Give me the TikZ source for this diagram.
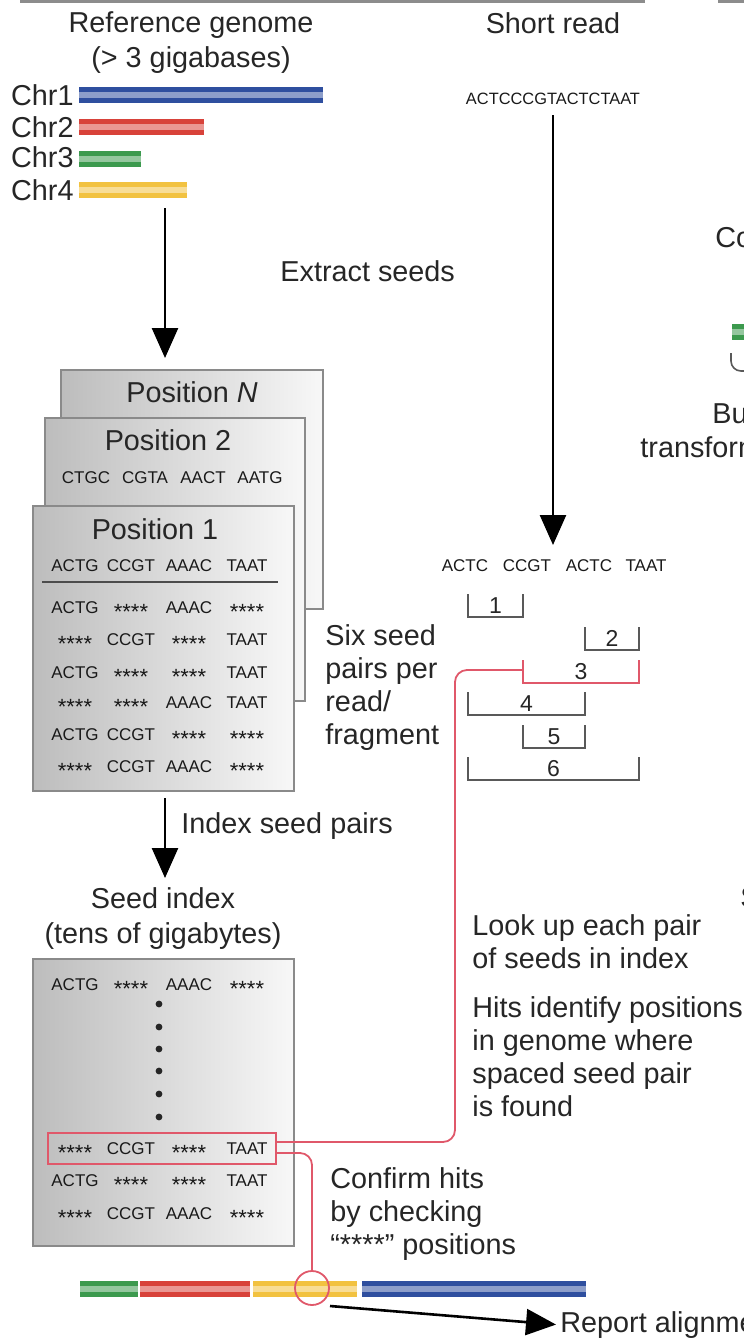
\documentclass[tikz,border=0pt]{standalone}
\usepackage{fontspec}
\setmainfont{Liberation Sans}
\usetikzlibrary{arrows.meta,positioning}

\definecolor{chrblue}{HTML}{2F4F9F}
\definecolor{chrred}{HTML}{D8423A}
\definecolor{chrgreen}{HTML}{3C9A4E}
\definecolor{chryellow}{HTML}{F2C240}
\definecolor{hitred}{HTML}{E0586A}
\definecolor{boxgray}{HTML}{8A8A8A}

\newcommand{\maskseed}{\raisebox{-3pt}{\fontsize{11}{11}\selectfont****}}

\tikzset{
  lbl/.style={font=\fontsize{14.4}{16.5}\selectfont, inner sep=0pt, align=left, text=black!85},
  seq/.style={font=\fontsize{8.5}{10}\selectfont, inner sep=0pt, anchor=base, text=black!90},
  num/.style={font=\fontsize{11.5}{12}\selectfont, inner sep=0pt, anchor=base, text=black!85},
  panel/.style={draw=boxgray, line width=1pt, left color=black!26, right color=black!3, anchor=north west},
  chrbar/.style={draw=#1, double=#1!55, line width=2.7pt, double distance=3pt},
  bigarrow/.style={line width=1.3pt, -{Triangle[length=15pt,width=13pt]}},
  hitline/.style={draw=hitred, line width=0.9pt, rounded corners=6pt},
  seedbracket/.style={draw=black!65, line width=0.8pt}
}

\begin{document}
\begin{tikzpicture}[x=0.5pt, y=-0.5pt]
\useasboundingbox (0,0) rectangle (744,1340);
\clip (0,0) rectangle (744,1340);

% Panel frame lines
\draw[black!45, line width=1.2pt] (20,1.5) -- (645,1.5);
\draw[black!45, line width=1.2pt] (718,1.5) -- (744,1.5);

% Reference genome and its chromosomes
\node[lbl, align=center, anchor=north, font=\fontsize{14.4}{17.5}\selectfont] (genome) at (191,11) {Reference genome\\(> 3 gigabases)};
\node[lbl, anchor=base east] (chr1) at (74,105) {Chr1};
\node[lbl, anchor=base east] (chr2) at (74,137) {Chr2};
\node[lbl, anchor=base east] (chr3) at (74,167) {Chr3};
\node[lbl, anchor=base east] (chr4) at (74,200) {Chr4};
\draw[chrbar=chrblue] (79,95) -- (323,95);
\draw[chrbar=chrred] (79,127) -- (204,127);
\draw[chrbar=chrgreen] (79,159) -- (141,159);
\draw[chrbar=chryellow] (79,190) -- (187,190);

% Extract seeds
\coordinate (genomeOut) at (165,208);
\coordinate (seedsIn) at (165,358);
\draw[bigarrow] (genomeOut) -- (seedsIn);
\node[lbl, anchor=base west] (extract) at (280,281) {Extract seeds};

% Stack of positions
\node[panel, minimum width=131pt, minimum height=119.5pt] (posN) at (60,369) {};
\node[lbl, anchor=base] (posNtitle) at (192,402) {Position \textit{N}};
\node[panel, minimum width=130pt, minimum height=141.5pt] (posTwo) at (44,417) {};
\node[lbl, anchor=base] (posTwoTitle) at (168,450) {Position 2};
\node[seq] (p2a) at (86,483) {CTGC};
\node[seq] (p2b) at (145,483) {CGTA};
\node[seq] (p2c) at (203,483) {AACT};
\node[seq] (p2d) at (260,483) {AATG};
\node[panel, minimum width=130.5pt, minimum height=142.5pt] (posOne) at (32,505) {};
\node[lbl, anchor=base] (posOneTitle) at (155,539) {Position 1};
\draw[black!70, line width=1pt] (42,582) -- (278,582);

% Seed rows of position 1 and of the index
\foreach \y/\a/\b/\c/\d in {571/ACTG/CCGT/AAAC/TAAT, 613/ACTG/\maskseed/AAAC/\maskseed,
    645/\maskseed/CCGT/\maskseed/TAAT, 678/ACTG/\maskseed/\maskseed/TAAT,
    708/\maskseed/\maskseed/AAAC/TAAT, 740/ACTG/CCGT/\maskseed/\maskseed,
    772/\maskseed/CCGT/AAAC/\maskseed}{
  \node[seq] (r\y a) at (75,\y) {\a};
  \node[seq] (r\y b) at (131,\y) {\b};
  \node[seq] (r\y c) at (189,\y) {\c};
  \node[seq] (r\y d) at (247,\y) {\d};
}
\node[lbl, anchor=north west] (sixpairs) at (325,624) {Six seed\\pairs per\\read/\\fragment};

% Index seed pairs
\coordinate (idxOut) at (165,798);
\coordinate (idxIn) at (165,878);
\draw[bigarrow] (idxOut) -- (idxIn);
\node[lbl, anchor=base west] (indexlbl) at (181,833) {Index seed pairs};
\node[lbl, align=center, anchor=north, font=\fontsize{14.4}{17.5}\selectfont] (seedindex) at (163,887) {Seed index\\(tens of gigabytes)};
\node[panel, minimum width=130.5pt, minimum height=143.5pt] (idxBox) at (32,958) {};
\foreach \y/\a/\b/\c/\d in {990/ACTG/\maskseed/AAAC/\maskseed, 1154/\maskseed/CCGT/\maskseed/TAAT,
    1186/ACTG/\maskseed/\maskseed/TAAT, 1219/\maskseed/CCGT/AAAC/\maskseed}{
  \node[seq] (r\y a) at (75,\y) {\a};
  \node[seq] (r\y b) at (131,\y) {\b};
  \node[seq] (r\y c) at (189,\y) {\c};
  \node[seq] (r\y d) at (247,\y) {\d};
}
\foreach \y in {1004,1027,1049,1071,1094,1117}
  \fill[black!85] (159,\y) circle (1.7pt);
\node[draw=hitred, line width=0.9pt, minimum width=114pt, minimum height=15.5pt, inner sep=0pt] (hitrow) at (162,1148.5) {};

% Short read and its seeds
\node[lbl, anchor=base] (shortread) at (553,33) {Short read};
\node[seq, font=\fontsize{8.2}{10}\selectfont] (read) at (553,104) {ACTCCCGTACTCTAAT};
\coordinate (readOut) at (553,115);
\coordinate (readIn) at (553,545);
\draw[bigarrow] (readOut) -- (readIn);
\node[seq] (s1) at (465,571) {ACTC};
\node[seq] (s2) at (527,571) {CCGT};
\node[seq] (s3) at (589,571) {ACTC};
\node[seq] (s4) at (646,571) {TAAT};

% Six spaced seed pairs
\foreach \a/\b/\t/\n in {468/523/594/1, 585/639/627/2, 468/585/692/4, 523/585/725/5, 468/639/757/6}{
  \draw[seedbracket] (\a,\t) |- (\b,\t+23) -- (\b,\t);
  \node[num] (pair\n) at ({(\a+\b)/2},\t+19) {\n};
}
\draw[seedbracket, draw=hitred] (523,660) |- (639,683) -- (639,660);
\node[num] (pair3) at (581,679) {3};
\coordinate (b3) at (523,670);

% Look up in the index
\node[lbl, anchor=north west] (lookup) at (472,914) {Look up each pair\\of seeds in index};
\node[lbl, anchor=north west] (hits) at (472,996) {Hits identify positions\\in genome where\\spaced seed pair\\is found};
\coordinate (hitturn) at (455,900);
\draw[hitline] ([yshift=3.25pt]hitrow.east) -| (hitturn) |- (b3);

% Confirm hits on the genome
\node[lbl, anchor=north west] (confirm) at (330,1167) {Confirm hits\\by checking\\“****” positions};
\draw[chrbar=chrgreen] (80,1289) -- (138,1289);
\draw[chrbar=chrred] (140,1289) -- (250,1289);
\draw[chrbar=chryellow] (253,1289) -- (357,1289);
\draw[chrbar=chrblue] (362,1289) -- (586,1289);
\node[draw=hitred, line width=0.9pt, circle, minimum size=17pt, inner sep=0pt] (hitspot) at (312,1288) {};
\draw[hitline] ([yshift=-2.25pt]hitrow.east) -| (hitspot.north);
\coordinate (reportStart) at (330,1306);
\node[lbl, anchor=base west] (report) at (560,1332) {Report alignment};
\draw[bigarrow] (reportStart) -- ([xshift=-2pt]report.west);

% Next panel, cut at the edge
\node[lbl, anchor=base west] (nextA) at (715,247) {Co};
\draw[chrbar=chrgreen] (732,332) -- (750,332);
\draw[seedbracket, rounded corners=5pt] (731,353) |- (748,371);
\node[lbl, anchor=base west] (nextB) at (712,423) {Bu};
\node[lbl, anchor=base west] (nextC) at (640,457) {transform};
\node[lbl, anchor=base west] (nextD) at (740,907) {S};
\end{tikzpicture}
\end{document}
